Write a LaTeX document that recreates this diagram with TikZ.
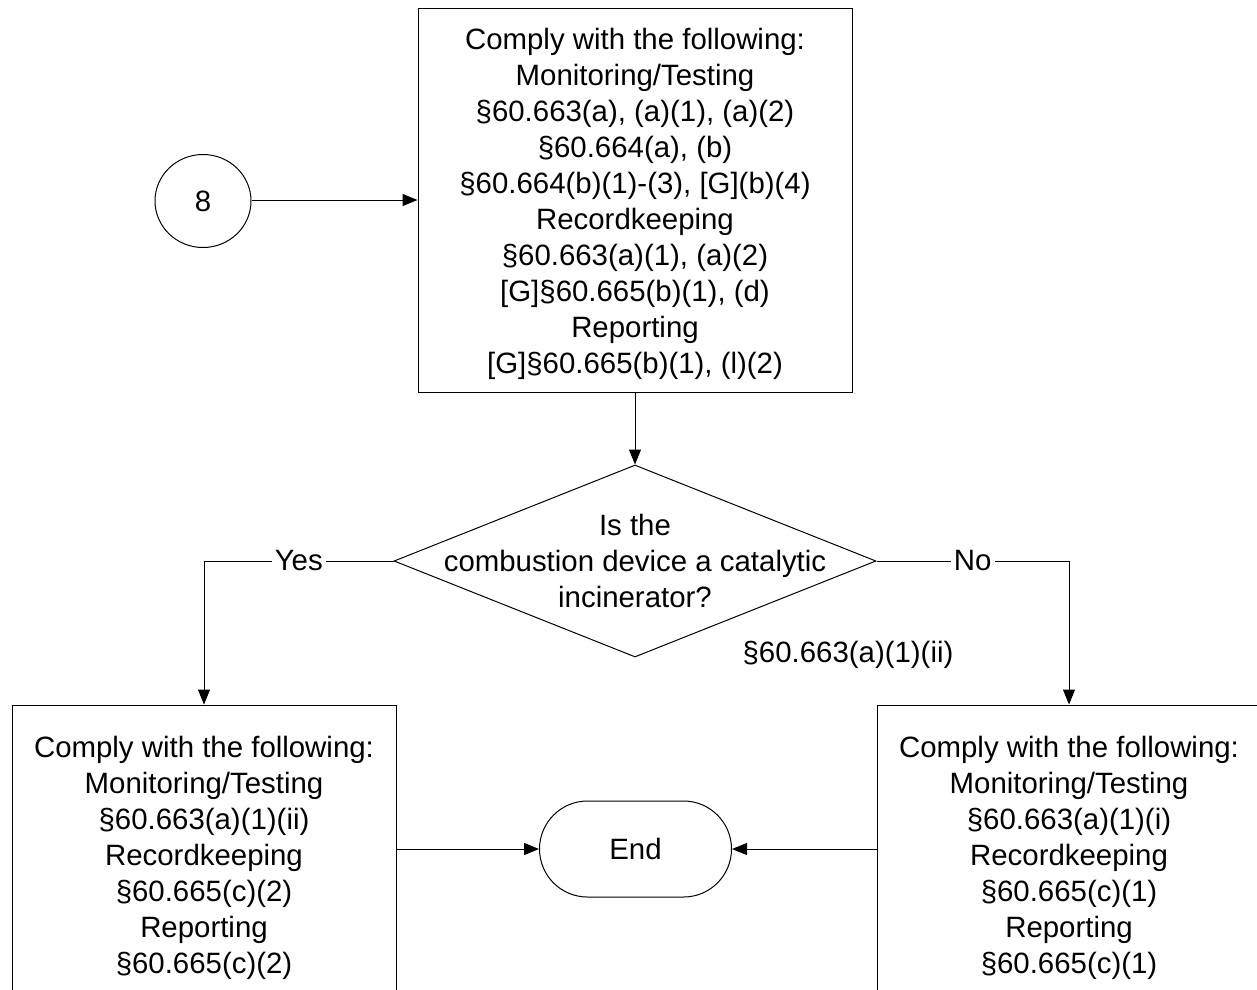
\documentclass[tikz,border=0pt]{standalone}
\usepackage{fontspec}
\setmainfont{Liberation Sans}
\usetikzlibrary{arrows.meta,shapes.geometric}
\begin{document}
\begin{tikzpicture}[x=1pt,y=-1pt,
  every node/.style={font=\fontsize{29.4}{36}\selectfont, inner sep=0pt},
  box/.style={draw, line width=1pt, rectangle, align=center},
  conn/.style={line width=1pt},
  arr/.style={conn, -{Triangle[length=15pt,width=12pt]}},
  lbl/.style={fill=white, inner xsep=3pt, inner ysep=2pt}]
\useasboundingbox (0,0) rectangle (1257,989);
\fill[white] (0,0) rectangle (1257,989);
\clip (0,0) rectangle (1257,989);

\node[draw, line width=1pt, ellipse, minimum width=96pt, minimum height=93pt] (c8) at (203,201) {8};
\node[box, minimum width=434pt, minimum height=384pt] (top) at (635,200) {};
\node[align=center] (toptext) at ([yshift=-4pt]top.center)
  {Comply with the following:\\Monitoring/Testing\\\S60.663(a), (a)(1), (a)(2)\\\S60.664(a), (b)\\\S60.664(b)(1)-(3), [G](b)(4)\\Recordkeeping\\\S60.663(a)(1), (a)(2)\\{[G]}\S60.665(b)(1), (d)\\Reporting\\{[G]}\S60.665(b)(1), (l)(2)};
\node[draw, line width=1pt, diamond, minimum width=482pt, minimum height=192pt] (dec) at (635,561) {};
\node[align=center] (dectext) at (dec.center) {Is the\\combustion device a catalytic\\incinerator?};
\node (cite) at (848,655) {\S60.663(a)(1)(ii)};
\node[box, minimum width=384pt, minimum height=306pt] (lb) at (204,858)
  {Comply with the following:\\Monitoring/Testing\\\S60.663(a)(1)(ii)\\Recordkeeping\\\S60.665(c)(2)\\Reporting\\\S60.665(c)(2)};
\node[box, minimum width=384pt, minimum height=306pt] (rb) at (1069,858)
  {Comply with the following:\\Monitoring/Testing\\\S60.663(a)(1)(i)\\Recordkeeping\\\S60.665(c)(1)\\Reporting\\\S60.665(c)(1)};
\node[draw, line width=1pt, rectangle, rounded corners=48pt, minimum width=192pt, minimum height=96pt] (end) at (635.5,849) {End};

\draw[arr] (c8.east |- 0,200) -- (top.west |- 0,200);
\draw[arr] (top.south) -- (dec.north);
\draw[arr] (dec.west) -| node[pos=0.25, lbl] {Yes} (lb.north);
\draw[arr] (dec.east) -| node[pos=0.25, lbl] {No} (rb.north);
\draw[arr] (lb.east |- end.west) -- (end.west);
\draw[arr] (rb.west |- end.east) -- (end.east);
\end{tikzpicture}
\end{document}
